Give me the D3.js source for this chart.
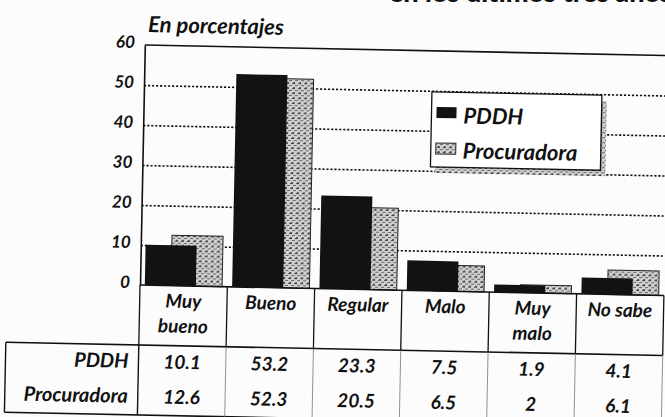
<!DOCTYPE html>
<html>
<head>
<meta charset="utf-8">
<script src="https://cdn.jsdelivr.net/npm/d3@7"></script>
<style>
  body { margin: 0; background: #fcfcfc; }
  text { font-family: Lato, "Open Sans", sans-serif; font-weight: 700; font-style: italic; fill: #111; }
</style>
</head>
<body>
<div id="chart"></div>
<script>
// data
var categoryLabels = [["Muy", "bueno"], ["Bueno"], ["Regular"], ["Malo"], ["Muy", "malo"], ["No sabe"]];
var seriesNames = ["PDDH", "Procuradora"];
var pddh = [10.1, 53.2, 23.3, 7.5, 1.9, 4.1];
var procuradora = [12.6, 52.3, 20.5, 6.5, 2, 6.1];
var yTicks = [0, 10, 20, 30, 40, 50, 60];

// Set Dimension
var W = 665, H = 417;
var plotLeft = 140, plotRight = 664, plotTop = 45, plotBottom = 285;
var headerBottom = 345, rowH = 35, tableLeft = 7;

var svg = d3.select("#chart").append("svg")
  .attr("width", W).attr("height", H);

// speckled grey fill for Procuradora
var defs = svg.append("defs");
var pat = defs.append("pattern").attr("id", "speck")
  .attr("width", 6).attr("height", 5).attr("patternUnits", "userSpaceOnUse");
pat.append("rect").attr("width", 6).attr("height", 5).attr("fill", "#d0d0d0");
pat.append("rect").attr("x", 0).attr("y", 0).attr("width", 3).attr("height", 1).attr("fill", "#444");
pat.append("rect").attr("x", 3).attr("y", 2).attr("width", 3).attr("height", 1).attr("fill", "#666");
pat.append("rect").attr("x", 1).attr("y", 4).attr("width", 2).attr("height", 1).attr("fill", "#555");

// clipped heading above the chart
svg.append("text")
  .attr("x", 672).attr("y", 2)
  .attr("text-anchor", "end")
  .style("font-size", "27px").style("font-style", "normal").style("font-weight", 900)
  .text("en los últimos tres años");

// the scan is slightly tilted
var g = svg.append("g").attr("transform", "rotate(1.15," + plotLeft + "," + plotBottom + ")");

var x = d3.scaleBand().domain(d3.range(categoryLabels.length)).range([plotLeft, plotRight]);
var y = d3.scaleLinear().domain([0, 60]).range([plotBottom, plotTop]);
var bw = x.bandwidth();
var barW = bw * 0.585, shift = bw * 0.3, pad = bw * 0.055;

// gridlines
g.append("g")
  .attr("transform", "translate(" + plotLeft + ",0)")
  .call(d3.axisLeft(y).tickValues(yTicks.filter(function(d) { return d > 0 && d < 60; }))
    .tickSize(-(plotRight - plotLeft)).tickFormat(""))
  .call(function(a) { a.select(".domain").remove(); })
  .selectAll("line")
  .attr("stroke", "#111").attr("stroke-width", 1.6).attr("stroke-dasharray", "2.2,1.8");

// frame top
g.append("line").attr("x1", plotLeft).attr("x2", plotRight + 10).attr("y1", y(60)).attr("y2", y(60))
  .attr("stroke", "#111").attr("stroke-width", 1.6);

// Procuradora bars (behind)
g.selectAll(".proc").data(procuradora).enter().append("rect")
  .attr("class", "proc")
  .attr("x", function(d, i) { return x(i) + pad + shift; })
  .attr("y", function(d) { return y(d); })
  .attr("width", barW)
  .attr("height", function(d) { return y(0) - y(d); })
  .attr("fill", "url(#speck)")
  .attr("stroke", "#222").attr("stroke-width", 1);

// PDDH bars (front)
g.selectAll(".pddh").data(pddh).enter().append("rect")
  .attr("class", "pddh")
  .attr("x", function(d, i) { return x(i) + pad; })
  .attr("y", function(d) { return y(d); })
  .attr("width", barW)
  .attr("height", function(d) { return y(0) - y(d); })
  .attr("fill", "#121212");

// Y axis
var yAxis = g.append("g").attr("transform", "translate(" + plotLeft + ",0)")
  .call(d3.axisLeft(y).tickValues(yTicks).tickSize(0).tickSizeOuter(0).tickPadding(10));
yAxis.select(".domain").attr("stroke", "#111").attr("stroke-width", 1.6);
yAxis.selectAll("text")
  .style("font-size", "17px").style("font-family", "Lato, sans-serif").attr("dy", "0.15em");

// title
g.append("text").attr("x", 143).attr("y", 32)
  .style("font-size", "22px")
  .text("En porcentajes");

// data table lines
var lineAttr = function(sel, w) { sel.attr("stroke", "#111").attr("stroke-width", w); };
var bounds = d3.range(categoryLabels.length + 1).map(function(i) { return plotLeft + i * bw; });

g.append("line").attr("x1", plotLeft).attr("x2", plotRight).attr("y1", plotBottom).attr("y2", plotBottom).call(lineAttr, 1.6);
g.append("line").attr("x1", tableLeft).attr("x2", plotRight).attr("y1", headerBottom).attr("y2", headerBottom).call(lineAttr, 1.6);
g.append("line").attr("x1", tableLeft).attr("x2", plotRight).attr("y1", headerBottom + 2 * rowH).attr("y2", headerBottom + 2 * rowH).call(lineAttr, 1.6);
g.append("line").attr("x1", tableLeft).attr("x2", tableLeft).attr("y1", headerBottom).attr("y2", headerBottom + 2 * rowH).call(lineAttr, 1.4);
g.selectAll(".hv").data(bounds).enter().append("line")
  .attr("x1", function(d) { return d; }).attr("x2", function(d) { return d; })
  .attr("y1", plotBottom).attr("y2", headerBottom).call(lineAttr, 1.3);
g.selectAll(".dv").data(bounds).enter().append("line")
  .attr("x1", function(d) { return d; }).attr("x2", function(d) { return d; })
  .attr("y1", headerBottom).attr("y2", headerBottom + 2 * rowH)
  .attr("stroke", function(d, i) { return i == 0 ? "#111" : "#777"; })
  .attr("stroke-width", function(d, i) { return i == 0 ? 1.4 : 0.8; });

// header labels
var header = g.selectAll(".hdr").data(categoryLabels).enter().append("text")
  .attr("text-anchor", "middle").style("font-size", "19px");
header.selectAll("tspan").data(function(d, i) { return d.map(function(t) { return {t: t, i: i}; }); })
  .enter().append("tspan")
  .attr("x", function(d) { return x(d.i) + bw / 2; })
  .attr("y", function(d, j) { return 307 + j * 25; })
  .text(function(d) { return d.t; });

// rows
[pddh, procuradora].forEach(function(vals, r) {
  var base = headerBottom + r * rowH + 23;
  g.append("text").attr("x", 130).attr("y", base).attr("text-anchor", "end")
    .style("font-size", "20px").text(seriesNames[r]);
  g.selectAll(".v" + r).data(vals).enter().append("text")
    .attr("x", function(d, i) { return x(i) + bw / 2; })
    .attr("y", base)
    .attr("text-anchor", "middle").style("font-size", "19px")
    .text(function(d) { return d; });
});

// legend
var lg = g.append("g").attr("transform", "translate(428,86)");
lg.append("rect").attr("x", 5).attr("y", 6).attr("width", 170).attr("height", 75).attr("fill", "url(#speck)");
lg.append("rect").attr("width", 170).attr("height", 75).attr("fill", "#fff").attr("stroke", "#111").attr("stroke-width", 1.3);
lg.append("rect").attr("x", 5).attr("y", 15).attr("width", 20).attr("height", 11).attr("fill", "#121212");
lg.append("rect").attr("x", 5).attr("y", 51).attr("width", 20).attr("height", 11).attr("fill", "url(#speck)").attr("stroke", "#222");
lg.append("text").attr("x", 32).attr("y", 31).style("font-size", "22px").text(seriesNames[0]);
lg.append("text").attr("x", 32).attr("y", 66).style("font-size", "22px").text(seriesNames[1]);
</script>
</body>
</html>
